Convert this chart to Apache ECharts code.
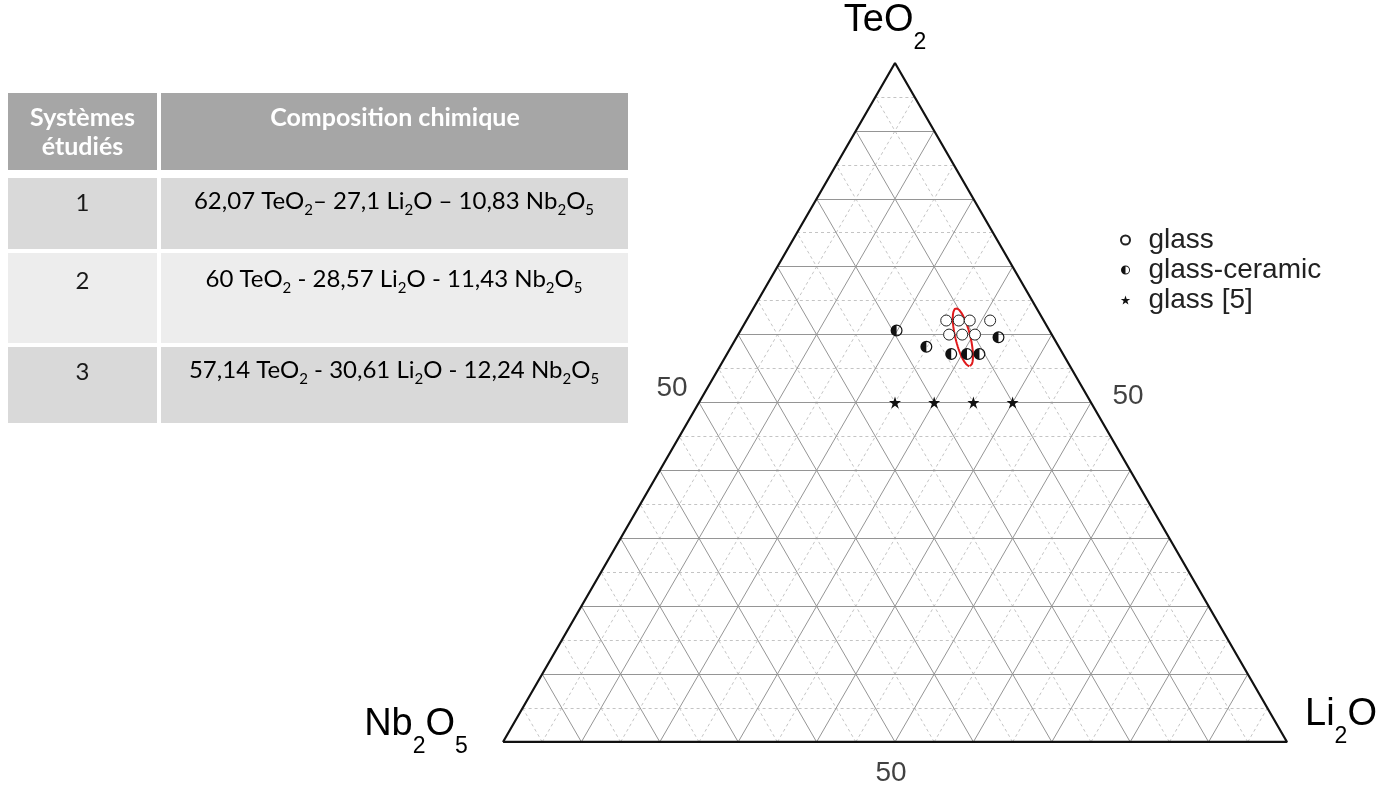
<!DOCTYPE html>
<html><head><meta charset="utf-8">
<script src="https://cdn.jsdelivr.net/npm/echarts@6/dist/echarts.min.js"></script>
<style>html,body{margin:0;padding:0;background:#fff}#c{width:1387px;height:787px}</style>
</head><body><div id="c"></div>
<script>
// ---------- data (mol %) ----------
const glassTeO2  = [62.07, 62.07, 62.07, 62.07, 60, 60, 60];
const glassLi2O  = [25.5, 27.1, 28.5, 31.1, 26.9, 28.57, 30.2];
const glassNb2O5 = [12.43, 10.83, 9.43, 6.83, 13.1, 11.43, 9.8];

const gcTeO2  = [60.6, 58.2, 59.6, 57.14, 57.14, 57.14];
const gcLi2O  = [19.9, 24.9, 33.4, 28.6, 30.61, 32.2];
const gcNb2O5 = [19.5, 16.9, 7.0, 14.26, 12.25, 10.66];

const refTeO2  = [50, 50, 50, 50];
const refLi2O  = [25, 30, 35, 40];
const refNb2O5 = [25, 20, 15, 10];

// table systems
const sysNames = ['1', '2', '3'];
const sysTeO2  = [62.07, 60, 57.14];
const sysLi2O  = [27.1, 28.57, 30.61];
const sysNb2O5 = [10.83, 11.43, 12.24];
const sysTexts = [
  '62,07 TeO{s|2}– 27,1 Li{s|2}O – 10,83 Nb{s|2}O{s|5}',
  '60 TeO{s|2} - 28,57 Li{s|2}O - 11,43 Nb{s|2}O{s|5}',
  '57,14 TeO{s|2} - 30,61 Li{s|2}O - 12,24 Nb{s|2}O{s|5}'
];

const seriesNames = ['glass', 'glass-ceramic', 'glass [5]'];
const tickLabel = '50';

// ---------- helpers ----------
const SQ = Math.sqrt(3) / 2;
function toXY(te, li) { return [li / 100 + te / 200, te / 100 * SQ]; }
function pts(te, li) { return te.map((t, i) => toXY(t, li[i])); }

// grid lines every 5 % (solid on 10 %)
const solid = [], dashed = [];
for (let k = 1; k < 20; k++) {
  const c = k * 5;
  const segs = [
    [toXY(c, 0), toXY(c, 100 - c)],          // TeO2 = c
    [toXY(0, c), toXY(100 - c, c)],          // Li2O = c
    [toXY(0, 100 - c), toXY(100 - c, 0)]     // Nb2O5 = c
  ];
  segs.forEach(s => (k % 2 === 0 ? solid : dashed).push({ coords: s }));
}
const border = [toXY(0, 0), toXY(0, 100), toXY(100, 0), toXY(0, 0)];

// ellipse around the three table systems
const p1 = toXY(sysTeO2[0], sysLi2O[0]);
const p3 = toXY(sysTeO2[2], sysLi2O[2]);
const cx = (p1[0] + p3[0]) / 2, cy = (p1[1] + p3[1]) / 2;
let dx = p3[0] - p1[0], dy = p3[1] - p1[1];
const len = Math.hypot(dx, dy); dx /= len; dy /= len;
const ea = len / 2 + 0.016, eb = 0.0095;
const ellipse = [];
for (let i = 0; i <= 72; i++) {
  const th = i / 72 * Math.PI * 2;
  const u = ea * Math.cos(th), v = eb * Math.sin(th);
  ellipse.push([cx + u * dx - v * dy, cy + u * dy + v * dx]);
}

const HALF = 'path://M10 0 A10 10 0 0 1 10 20 L10 18 A8 8 0 0 0 10 2 Z M10 0 A10 10 0 0 0 10 20 Z';
const STAR = 'path://M50 2 L61.8 37.3 L98.9 37.6 L69.1 59.7 L80.2 95.1 L50 73.6 L19.8 95.1 L30.9 59.7 L1.1 37.6 L38.2 37.3 Z';
const FONT = 'Liberation Sans';

// ---------- table graphics ----------
const tableFont = 'Lato';
const g = [];
const rowsY = [[93, 77, '#a6a6a6'], [178, 71, '#d9d9d9'], [253, 90, '#ededed'], [347, 76, '#d9d9d9']];
rowsY.forEach(r => {
  g.push({ type: 'rect', shape: { x: 8, y: r[0], width: 149, height: r[1] }, style: { fill: r[2] }, silent: true });
  g.push({ type: 'rect', shape: { x: 161, y: r[0], width: 467, height: r[1] }, style: { fill: r[2] }, silent: true });
});
const hdrFont = 'bold 25px ' + tableFont;
g.push({ type: 'text', x: 82.5, y: 118, style: { text: 'Systèmes', fill: '#fff', font: hdrFont, align: 'center', verticalAlign: 'middle' } });
g.push({ type: 'text', x: 82.5, y: 147, style: { text: 'étudiés', fill: '#fff', font: hdrFont, align: 'center', verticalAlign: 'middle' } });
g.push({ type: 'text', x: 395, y: 118, style: { text: 'Composition chimique', fill: '#fff', font: hdrFont, align: 'center', verticalAlign: 'middle' } });
const rowTextY = [203, 281, 372];
function richify(t) {
  const parts = t.replace(/\{s\|(\d)\}/g, '\u0000$1\u0001').split(/\u0000|\u0001/);
  let out = '';
  parts.forEach((p, idx) => { if (!p) return; out += (idx % 2 === 1 ? '{s|' + p + '}' : '{m|' + p + '}'); });
  return out;
}
sysNames.forEach((n, i) => {
  g.push({ type: 'text', x: 82.5, y: rowTextY[i], style: { text: n, fill: '#1a1a1a', font: '24px ' + tableFont, align: 'center', verticalAlign: 'middle' } });
  g.push({ type: 'text', x: 394, y: rowTextY[i], style: {
    text: richify(sysTexts[i]), align: 'center', verticalAlign: 'middle',
    rich: {
      m: { fontSize: 24, fontFamily: tableFont, color: '#1a1a1a', verticalAlign: 'top', lineHeight: 28 },
      s: { fontSize: 15, fontFamily: tableFont, color: '#1a1a1a', verticalAlign: 'top', lineHeight: 15, padding: [14, 0, 0, 0] }
    }
  }});
});

// vertex labels
function vtx(x, y, parts) {
  const txt = parts.map(p => '{' + (p[1] ? 's' : 'm') + '|' + p[0] + '}').join('');
  return { type: 'text', x: x, y: y, style: {
    text: txt, align: 'center', verticalAlign: 'top',
    rich: {
      m: { fontSize: 38, fontFamily: FONT, color: '#111', verticalAlign: 'top', lineHeight: 40 },
      s: { fontSize: 23, fontFamily: FONT, color: '#111', verticalAlign: 'top', lineHeight: 23, padding: [29, 0, 0, 0] }
    }
  }};
}
g.push(vtx(885, 2, [['TeO', 0], ['2', 1]]));
g.push(vtx(416, 706, [['Nb', 0], ['2', 1], ['O', 0], ['5', 1]]));
g.push(vtx(1341, 696, [['Li', 0], ['2', 1], ['O', 0]]));

const chart = echarts.init(document.getElementById('c'), null, { renderer: 'canvas' });
chart.setOption({
  backgroundColor: '#fff',
  animation: false,
  grid: { left: 503, top: 63, width: 784, height: 784 * SQ },
  xAxis: { type: 'value', min: 0, max: 1, show: false },
  yAxis: { type: 'value', min: 0, max: SQ, show: false },
  legend: {
    data: seriesNames, orient: 'vertical', left: 1115, top: 221,
    itemWidth: 36, itemHeight: 9, itemGap: 2, symbolKeepAspect: true,
    textStyle: { fontSize: 28, fontFamily: FONT, color: '#222' }
  },
  graphic: g,
  series: [
    { type: 'lines', coordinateSystem: 'cartesian2d', silent: true, z: 1,
      lineStyle: { color: '#c4c4c4', width: 1, type: [3, 3], opacity: 1 }, data: dashed },
    { type: 'lines', coordinateSystem: 'cartesian2d', silent: true, z: 2,
      lineStyle: { color: '#959595', width: 1, opacity: 1 }, data: solid },
    { type: 'line', silent: true, z: 3, data: border, showSymbol: false,
      lineStyle: { color: '#111', width: 2.2 } },
    { type: 'line', silent: true, z: 4, data: ellipse, showSymbol: false, smooth: false,
      lineStyle: { color: '#e0191b', width: 2 } },
    { name: seriesNames[0], type: 'scatter', z: 5, symbol: 'circle', symbolSize: 11,
      itemStyle: { color: '#fff', borderColor: '#222', borderWidth: 1, opacity: 1 },
      data: pts(glassTeO2, glassLi2O) },
    { name: seriesNames[1], type: 'scatter', z: 5, symbol: HALF, symbolSize: 12,
      itemStyle: { color: '#111', opacity: 1 },
      data: pts(gcTeO2, gcLi2O) },
    { name: seriesNames[2], type: 'scatter', z: 5, symbol: STAR, symbolSize: 12,
      itemStyle: { color: '#111', opacity: 1 },
      data: pts(refTeO2, refLi2O) },
    { type: 'scatter', silent: true, symbolSize: 0, z: 6,
      label: { show: true, formatter: tickLabel, fontSize: 28, fontFamily: FONT, color: '#111', position: 'inside' },
      data: [
        { value: toXY(50, 0), label: { offset: [-27, -14] } },
        { value: toXY(50, 50), label: { offset: [37, -6] } },
        { value: toXY(0, 50), label: { offset: [-4, 31] } }
      ] }
  ]
});
</script></body></html>
